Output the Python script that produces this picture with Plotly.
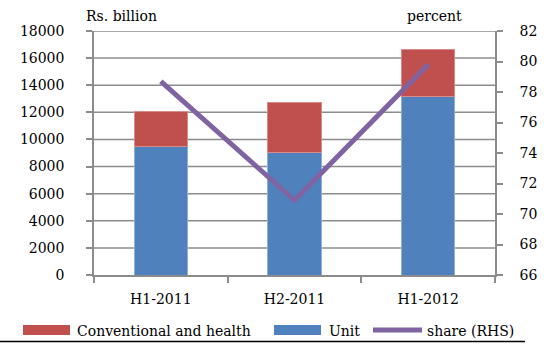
import plotly.graph_objects as go

categories = ["H1-2011", "H2-2011", "H1-2012"]
unit = [9470, 9030, 13160]
conventional = [2580, 3720, 3440]
share = [78.7, 70.9, 79.8]
legend_labels = ["Conventional and health", "Unit", "share (RHS)"]
left_range, left_step = (0, 18000), 2000
right_range, right_step = (66, 82), 2

RED, BLUE, PURPLE = "#C0504D", "#4F81BD", "#8064A2"
font_family = "DejaVu Serif"
grid = "#8c8c8c"

# plot-area geometry (pixels) for converting legend placement to paper coords
L, R, T, B = 94, 54, 31, 69
W, H = 549, 344
PW, PH = W - L - R, H - T - B
px = lambda x: (x - L) / PW
py = lambda y: (H - B - y) / PH

pos = list(range(len(categories)))
x_range = [-0.5, len(categories) - 0.5]
boundaries = [p - 0.5 for p in pos] + [pos[-1] + 0.5]

# horizontal gridlines at left-axis tick values, drawn as the bottom-most trace
grid_x, grid_y = [], []
for v in range(left_range[0] + left_step, left_range[1] + 1, left_step):
    grid_x += [x_range[0], x_range[1], None]
    grid_y += [v, v, None]

fig = go.Figure()
fig.add_trace(go.Scatter(x=grid_x, y=grid_y, mode="lines", yaxis="y", showlegend=False,
                         hoverinfo="skip", cliponaxis=False, line=dict(color=grid, width=1.5)))
fig.add_trace(go.Bar(x=pos, y=unit, name=legend_labels[1], yaxis="y2", showlegend=False,
                     marker=dict(color=BLUE, line=dict(color="#8fb0dc", width=1))))
fig.add_trace(go.Bar(x=pos, y=conventional, name=legend_labels[0], yaxis="y2", showlegend=False,
                     marker=dict(color=RED, line=dict(color="#d98b89", width=1))))
fig.add_trace(go.Scatter(x=pos, y=share, name=legend_labels[2], yaxis="y3", mode="lines",
                         showlegend=False, line=dict(color=PURPLE, width=5)))

shapes = [
    dict(type="rect", xref="paper", yref="paper", x0=px(23), x1=px(70), y0=py(335), y1=py(325),
         fillcolor=RED, line=dict(width=0)),
    dict(type="rect", xref="paper", yref="paper", x0=px(274), x1=px(321), y0=py(335), y1=py(325),
         fillcolor=BLUE, line=dict(width=0)),
    dict(type="line", xref="paper", yref="paper", x0=px(373), x1=px(422), y0=py(330), y1=py(330),
         line=dict(color=PURPLE, width=5)),
    dict(type="line", xref="paper", yref="paper", x0=px(0), x1=px(525), y0=py(341.5), y1=py(341.5),
         line=dict(color="black", width=1.5)),
]

annotations = [
    dict(text="Rs. billion", x=px(84), y=py(16), xanchor="left", yanchor="middle"),
    dict(text="percent", x=px(464), y=py(16), xanchor="right", yanchor="middle"),
    dict(text=legend_labels[0], x=px(75), y=py(331), xanchor="left", yanchor="middle"),
    dict(text=legend_labels[1], x=px(327), y=py(331), xanchor="left", yanchor="middle"),
    dict(text=legend_labels[2], x=px(425), y=py(331), xanchor="left", yanchor="middle"),
]
for a in annotations:
    a.update(xref="paper", yref="paper", showarrow=False)

fig.update_layout(
    template="none",
    width=W, height=H,
    margin=dict(l=L, r=R, t=T, b=B),
    barmode="stack", bargap=0.6,
    plot_bgcolor="white", paper_bgcolor="white",
    font=dict(family=font_family, size=14, color="black"),
    showlegend=False,
    xaxis=dict(range=x_range, tickvals=pos, ticktext=categories, ticks="", showline=True,
               linecolor=grid, linewidth=1.5, showgrid=False, zeroline=False, automargin=False,
               ticklabelstandoff=10,
               minor=dict(tickvals=boundaries, ticks="outside", ticklen=6, tickcolor=grid,
                          tickwidth=1.5, showgrid=False)),
    yaxis=dict(range=list(left_range), dtick=left_step, tickformat="d", showline=True, linecolor=grid,
               linewidth=1.5, ticks="outside", ticklen=6, tickcolor=grid, tickwidth=1.5, showgrid=False,
               zeroline=False, ticklabelstandoff=19, automargin=False),
    yaxis2=dict(range=list(left_range), overlaying="y", visible=False, showgrid=False, zeroline=False),
    yaxis3=dict(range=list(right_range), dtick=right_step, overlaying="y", side="right", showline=True,
                linecolor=grid, linewidth=1.5, ticks="outside", ticklen=6, tickcolor=grid, tickwidth=1.5,
                showgrid=False, zeroline=False, ticklabelstandoff=14, automargin=False),
    shapes=shapes,
    annotations=annotations,
)

fig.write_html("out.html")
